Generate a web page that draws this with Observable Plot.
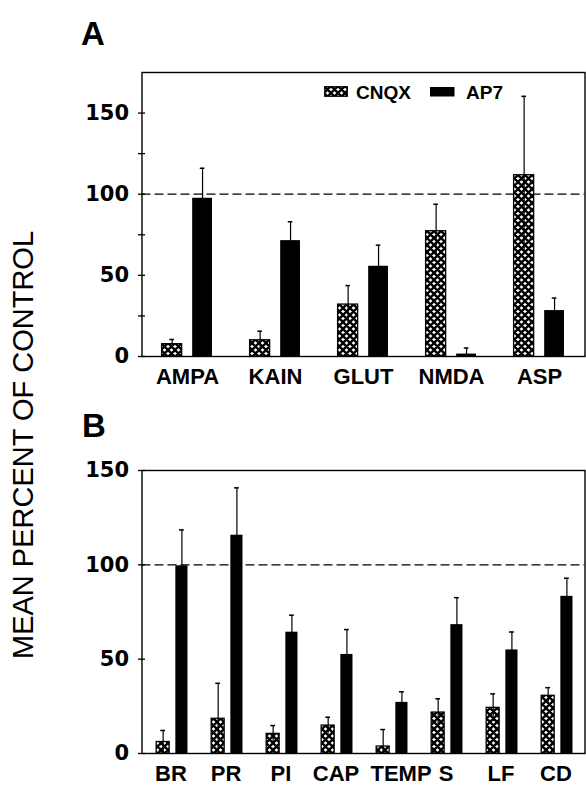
<!DOCTYPE html>
<html>
<head>
<meta charset="utf-8">
<script src="https://cdn.jsdelivr.net/npm/d3@7"></script>
<script src="https://cdn.jsdelivr.net/npm/@observablehq/plot@0.6"></script>
<style>
  html, body { margin: 0; padding: 0; background: #fff; }
  #root { position: relative; width: 586px; height: 786px; overflow: hidden; background: #fff; }
  .panel { position: absolute; left: 0; }
  .panel svg { overflow: visible; }
  .panel g[aria-label="y-axis tick label"] text { font-family: "DejaVu Sans", sans-serif; font-weight: bold; font-size: 21px; }
  .panel g[aria-label="x-axis tick label"] text { font-family: "Liberation Sans", Arial, sans-serif; font-weight: bold; font-size: 22px; }
  .head { position: absolute; font-family: "Liberation Sans", Arial, sans-serif; font-weight: bold; font-size: 33px; line-height: 1; z-index: 2; }
  .ytitle { position: absolute; left: 23px; top: 445px; transform: translate(-50%, -50%) rotate(-90deg); white-space: nowrap; z-index: 2;
            font-family: "Liberation Sans", Arial, sans-serif; font-size: 29px; line-height: 1; }
  .legend { position: absolute; font-family: "Liberation Sans", Arial, sans-serif; font-weight: bold; font-size: 19px; line-height: 1; z-index: 2; }
</style>
</head>
<body>
<svg width="0" height="0" style="position:absolute">
  <defs>
    <pattern id="hatch" patternUnits="userSpaceOnUse" width="7" height="7">
      <rect width="7" height="7" fill="white"></rect>
      <path d="M0,0L7,7M7,0L0,7M-1,6L1,8M6,-1L8,1M-1,1L1,-1M6,8L8,6" stroke="black" stroke-width="2.3"></path>
    </pattern>
  </defs>
</svg>
<div id="root">
  <div id="panelA" class="panel" style="top:0px;"></div>
  <div id="panelB" class="panel" style="top:400px;"></div>
  <div class="ytitle">MEAN PERCENT OF CONTROL</div>
  <div class="head" style="left:81px; top:17px;">A</div>
  <div class="head" style="left:82px; top:409px;">B</div>
  <svg class="legend" style="left:324px; top:86px;" width="24" height="11"><rect x="0.75" y="0.75" width="22.5" height="9.5" fill="url(#hatch)" stroke="black" stroke-width="1.3"></rect></svg>
  <div class="legend" style="left:356px; top:83px;">CNQX</div>
  <svg class="legend" style="left:430px; top:86.5px;" width="25" height="10"><rect x="0" y="0" width="24.5" height="9.5" fill="black"></rect></svg>
  <div class="legend" style="left:466px; top:83px;">AP7</div>
</div>
<script>
// ---- Panel A data ----
const groupsA = ["AMPA", "KAIN", "GLUT", "NMDA", "ASP"];
const cnqxA    = [7.6, 10, 32, 77.2, 111.7];
const cnqxErrA = [2.9, 5.6, 11.7, 16.6, 48.6];
const ap7A     = [97.5, 71.4, 55.6, 1.5, 28.3];
const ap7ErrA  = [18.5, 11.6, 13, 3.7, 7.7];
const yTicksA = [0, 50, 100, 150];
const yMinorA = [25, 75, 125];

// ---- Panel B data ----
const groupsB = ["BR", "PR", "PI", "CAP", "TEMP", "S", "LF", "CD"];
const cnqxB    = [6.1, 18.4, 10.4, 14.8, 3.7, 21.7, 24.2, 30.6];
const cnqxErrB = [6.1, 18.8, 4.4, 4.4, 9, 7.3, 7.4, 4.3];
const ap7B     = [99.5, 115.7, 64.3, 52.5, 27.1, 68.3, 54.9, 83.3];
const ap7ErrB  = [19, 25.1, 9, 13.2, 5.6, 14.3, 9.5, 9.6];
const yTicksB = [0, 50, 100, 150];

const control = 100;

function table(groups, c, ce, a, ae) {
  return groups.map((g, i) => ({group: g, cnqx: c[i], cnqxErr: ce[i], ap7: a[i], ap7Err: ae[i]}));
}

function panel({data, groups, height, marginTop, marginBottom, yMax, ticks, minor, cBand, aBand}) {
  const width = 586, ml = 141.5, mr = 1.5;
  const bw = (width - ml - mr) / groups.length;
  const cL = cBand[0] * bw, cR = cBand[1] * bw;
  const aL = aBand[0] * bw, aR = aBand[1] * bw;
  const dxC = (cL + cR) / 2 - bw / 2;
  const dxA = (aL + aR) / 2 - bw / 2;
  const cap = bw / 2 - 2.6;
  const marks = [
    Plot.ruleY([control], {stroke: "black", strokeWidth: 1.3, strokeDasharray: "9,4"}),
    Plot.barY(data, {x: "group", y: "cnqx", fill: "url(#hatch)", stroke: "black", strokeWidth: 1.3, insetLeft: cL, insetRight: bw - cR}),
    Plot.barY(data, {x: "group", y: "ap7", fill: "black", insetLeft: aL, insetRight: bw - aR}),
    Plot.ruleX(data, {x: "group", y1: d => Math.max(0, d.cnqx - d.cnqxErr), y2: d => d.cnqx + d.cnqxErr, dx: dxC, stroke: "black", strokeWidth: 1.2}),
    Plot.tickY(data, {x: "group", y: d => d.cnqx + d.cnqxErr, dx: dxC, insetLeft: cap, insetRight: cap, stroke: "black", strokeWidth: 1.5}),
    Plot.ruleX(data, {x: "group", y1: d => Math.max(0, d.ap7 - d.ap7Err), y2: d => d.ap7 + d.ap7Err, dx: dxA, stroke: "black", strokeWidth: 1.2}),
    Plot.tickY(data, {x: "group", y: d => d.ap7 + d.ap7Err, dx: dxA, insetLeft: cap, insetRight: cap, stroke: "black", strokeWidth: 1.5}),
    Plot.axisY({ticks, tickSize: 7, dx: 3.5, tickPadding: 9.5, label: null, stroke: "black", strokeWidth: 1.3, fill: "black"}),
    Plot.axisX({tickSize: 0, tickPadding: 12, label: null, fill: "black"}),
    Plot.frame({stroke: "black", strokeWidth: 1.4})
  ];
  if (minor) marks.push(Plot.axisY({ticks: minor, tickSize: 7, dx: 3.5, tickFormat: () => "", label: null, stroke: "black", strokeWidth: 1.3}));
  return Plot.plot({
    width, height, marginLeft: ml, marginRight: mr, marginTop, marginBottom,
    x: {domain: groups, padding: 0},
    y: {domain: [0, yMax]},
    style: {background: "white", color: "black", overflow: "visible"},
    marks
  });
}

document.getElementById("panelA").append(panel({
  data: table(groupsA, cnqxA, cnqxErrA, ap7A, ap7ErrA), groups: groupsA,
  height: 400, marginTop: 72, marginBottom: 44, yMax: 175, ticks: yTicksA, minor: yMinorA,
  cBand: [0.21, 0.443], aBand: [0.555, 0.785]
}));
const svgB = panel({
  data: table(groupsB, cnqxB, cnqxErrB, ap7B, ap7ErrB), groups: groupsB,
  height: 386, marginTop: 70, marginBottom: 33, yMax: 150, ticks: yTicksB, minor: null,
  cBand: [0.238, 0.479], aBand: [0.584, 0.81]
});
document.getElementById("panelB").append(svgB);
// nudge the crowded TEMP label right, as in the original figure
svgB.querySelectorAll('g[aria-label="x-axis tick label"] text').forEach(t => {
  if (t.textContent === "TEMP") t.setAttribute("dx", "10");
});
</script>
</body>
</html>
